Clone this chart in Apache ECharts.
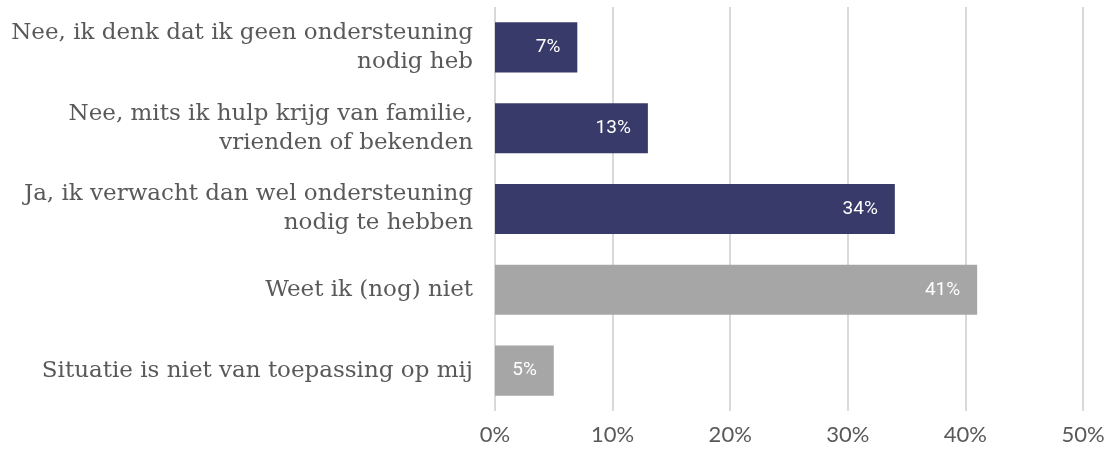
<!DOCTYPE html>
<html>
<head>
<meta charset="utf-8">
<script src="https://cdn.jsdelivr.net/npm/echarts@6/dist/echarts.min.js"></script>
<style>
    html, body { margin: 0; padding: 0; background: #fff; }
    #chart { width: 1111px; height: 458px; }
</style>
</head>
<body>
<div id="chart"></div>
<script>
    // antwoorden, van boven naar onder
    var categories = [
        'Nee, ik denk dat ik geen ondersteuning\nnodig heb',
        'Nee, mits ik hulp krijg van familie,\nvrienden of bekenden',
        'Ja, ik verwacht dan wel ondersteuning\nnodig te hebben',
        'Weet ik (nog) niet',
        'Situatie is niet van toepassing op mij'
    ];
    var values = [7, 13, 34, 41, 5];
    var barColors = ['#383b69', '#383b69', '#383b69', '#a6a6a6', '#a6a6a6'];
    var xTicks = [0, 10, 20, 30, 40, 50];

    var myChart = echarts.init(document.getElementById('chart'));
    var seriesData = values.map(function (v, i) {
        return { value: v, itemStyle: { color: barColors[i] } };
    });
    var option = {
        animation: false,
        grid: { left: 495, right: 28, top: 7, bottom: 47 },
        xAxis: {
            type: 'value',
            min: xTicks[0],
            max: xTicks[xTicks.length - 1],
            interval: 10,
            axisLine: { show: false },
            axisTick: { show: false },
            splitLine: { lineStyle: { color: '#d9d9d9', width: 2 } },
            axisLabel: {
                formatter: '{value}%',
                color: '#595959',
                fontFamily: 'Lato',
                fontSize: 22,
                margin: 13
            }
        },
        yAxis: {
            type: 'category',
            inverse: true,
            data: categories,
            axisLine: { show: false },
            axisTick: { show: false },
            axisLabel: {
                color: '#595959',
                fontFamily: 'DejaVu Serif',
                fontSize: 23,
                lineHeight: 29,
                align: 'right',
                margin: 22
            }
        },
        series: [{
            type: 'bar',
            data: seriesData,
            barWidth: '62%',
            label: {
                show: true,
                position: 'insideRight',
                distance: 17,
                formatter: '{c}%',
                color: '#fff',
                fontFamily: 'Roboto',
                fontSize: 19
            }
        }]
    };
    myChart.setOption(option);
</script>
</body>
</html>
